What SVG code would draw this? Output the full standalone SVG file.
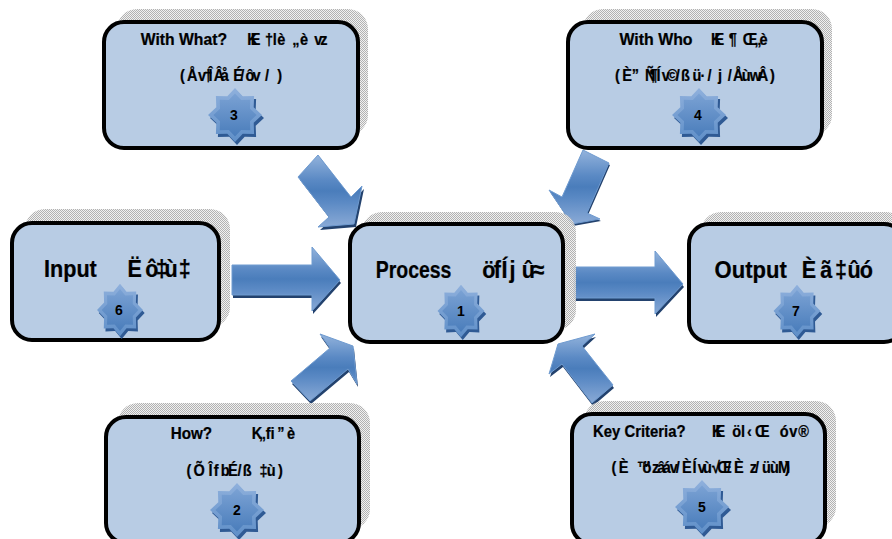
<svg xmlns="http://www.w3.org/2000/svg" xmlns:xlink="http://www.w3.org/1999/xlink" width="892" height="539" viewBox="0 0 892 539">
<style>
.box{fill:#b8cce4;stroke:#000;stroke-width:4}
.sh{fill:url(#dither)}
.arr{fill:url(#ag);stroke:#6f9bd0;stroke-width:1}
.ash{fill:#23426e}
.t{font-family:"Liberation Sans",sans-serif;font-weight:700;fill:#000;stroke:#000;stroke-width:.25;transform:scale(.88,1)}
.s{font-size:16.5px}
.l{font-size:24.5px}
.n{font-family:"Liberation Sans",sans-serif;font-weight:700;font-size:14px;fill:#000;text-anchor:middle}
</style>
<defs>
<pattern id="dither" width="2" height="2" patternUnits="userSpaceOnUse">
<rect width="2" height="2" fill="#eeeeee" fill-opacity=".8"/>
<rect width="1" height="1" fill="#b2b2b2"/><rect x="1" y="1" width="1" height="1" fill="#b2b2b2"/>
</pattern>
<linearGradient id="ag" x1="0" y1="0" x2="0" y2="1">
<stop offset="0" stop-color="#93b3dc"/><stop offset=".35" stop-color="#5a89c4"/><stop offset=".5" stop-color="#4a7dbb"/><stop offset=".65" stop-color="#5a89c4"/><stop offset="1" stop-color="#8aaad6"/>
</linearGradient>
<linearGradient id="sg1" x1="0" y1="0" x2="0" y2="1">
<stop offset="0" stop-color="#8fb0dc"/><stop offset="1" stop-color="#5f8fc8"/>
</linearGradient>
<linearGradient id="sg2" x1="0" y1="0" x2="0" y2="1">
<stop offset="0" stop-color="#7ba2d4"/><stop offset="1" stop-color="#4a7dbb"/>
</linearGradient>
<g id="star">
<polygon fill="#2f5a94" transform="translate(2 3)" points="0,-27 7.7,-18.7 19.1,-19.1 18.7,-7.7 27,0 18.7,7.7 19.1,19.1 7.7,18.7 0,27 -7.7,18.7 -19.1,19.1 -18.7,7.7 -27,0 -18.7,-7.7 -19.1,-19.1 -7.7,-18.7"/>
<polygon fill="url(#sg1)" points="0,-27 7.7,-18.7 19.1,-19.1 18.7,-7.7 27,0 18.7,7.7 19.1,19.1 7.7,18.7 0,27 -7.7,18.7 -19.1,19.1 -18.7,7.7 -27,0 -18.7,-7.7 -19.1,-19.1 -7.7,-18.7"/>
<polygon fill="url(#sg2)" transform="scale(.8)" points="0,-27 7.7,-18.7 19.1,-19.1 18.7,-7.7 27,0 18.7,7.7 19.1,19.1 7.7,18.7 0,27 -7.7,18.7 -19.1,19.1 -18.7,7.7 -27,0 -18.7,-7.7 -19.1,-19.1 -7.7,-18.7"/>
</g>
</defs>

<g id="connectors">
<g id="arrow-3">
<polygon class="ash" transform="translate(2 3)" points="318,155 298,177 329,217 318,227 354,224 362,186 351,197"/>
<polygon class="arr" points="318,155 298,177 329,217 318,227 354,224 362,186 351,197"/>
</g>
<g id="arrow-4">
<polygon class="ash" transform="translate(1 2)" points="583,150 609,163 587,213 600,219 572,224 549,190 562,197"/>
<polygon class="arr" points="583,150 609,163 587,213 600,219 572,224 549,190 562,197"/>
</g>
<g id="arrow-2">
<polygon class="ash" transform="translate(1 3)" points="291,381 310,401 348,369 357,384 353,346 320,334 330,348"/>
<polygon class="arr" points="291,381 310,401 348,369 357,384 353,346 320,334 330,348"/>
</g>
<g id="arrow-5">
<polygon class="ash" transform="translate(1 3)" points="613,385 592,403 562,364 549,374 558,344 595,334 582,346"/>
<polygon class="arr" points="613,385 592,403 562,364 549,374 558,344 595,334 582,346"/>
</g>
<g id="arrow-6">
<polygon class="ash" transform="translate(1 3)" points="232,265 312,265 312,247 340,280 312,311 312,295 232,295"/>
<polygon class="arr" points="232,265 312,265 312,247 340,280 312,311 312,295 232,295"/>
</g>
<g id="arrow-7">
<polygon class="ash" transform="translate(1 3)" points="574,267 655,267 655,251 683,284 655,314 655,298 574,298"/>
<polygon class="arr" points="574,267 655,267 655,251 683,284 655,314 655,298 574,298"/>
</g>
</g>

<g id="node-3">
<rect class="sh" x="117" y="9" width="251" height="126" rx="20"/>
<rect class="box" x="104" y="22" width="254" height="126" rx="20"/>
<text class="t s" x="160" y="45" textLength="98" lengthAdjust="spacingAndGlyphs">With What?</text>
<text class="t s" y="45" x="281 285 301 310 315 326 332 341 352 357 364">KE†lè „è vz</text>
<text class="t s" y="81" x="204.5 212.4 225 232 237 243 251 265 273 279 287 301 309 315">(Åv†ÎÂåÉ/ôv/ )</text>
<use xlink:href="#star" href="#star" x="235" y="115"/>
<text class="n" x="234" y="120">3</text>
</g>
<g id="node-4">
<rect class="sh" x="583" y="9" width="249" height="126" rx="20"/>
<rect class="box" x="568" y="22" width="254" height="126" rx="20"/>
<text class="t s" x="704" y="45" textLength="83" lengthAdjust="spacingAndGlyphs">With Who</text>
<text class="t s" y="45" x="808 812 828 844 857 863">KE¶Œ„è</text>
<text class="t s" y="81" x="699 707 718 733 738 746 752 758 765 768 774 782 787 796 804 816 822 827 833 843 852 861 875">(È”Ñ¶Ív© /ß ü·/j /ÅùwÂ)</text>
<use xlink:href="#star" href="#star" x="699" y="115"/>
<text class="n" x="698" y="120">4</text>
</g>
<g id="node-6">
<rect class="sh" x="25" y="209" width="205" height="118" rx="20"/>
<rect class="box" x="12" y="223" width="207" height="117" rx="20"/>
<text class="t l" x="50" y="277" textLength="60" lengthAdjust="spacingAndGlyphs">Input</text>
<text class="t l" y="277" x="145 165 177 187 203">Ëô‡ù‡</text>
<use xlink:href="#star" href="#star" transform="translate(120 310) scale(.85 .97)"/>
<text class="n" x="119" y="315">6</text>
</g>
<g id="node-1">
<rect class="sh" x="362" y="212" width="214" height="118" rx="20"/>
<rect class="box" x="350" y="224" width="213" height="118" rx="20"/>
<text class="t l" x="427" y="278" textLength="86" lengthAdjust="spacingAndGlyphs">Process</text>
<text class="t l" y="278" x="548 561 570 579 588 593 605">öfÍj û≈</text>
<use xlink:href="#star" href="#star" transform="translate(461 311) scale(.87 .97)"/>
<text class="n" x="461" y="316">1</text>
</g>
<g id="node-7">
<rect class="sh" x="701" y="212" width="205" height="118" rx="20"/>
<rect class="box" x="689" y="224" width="215" height="118" rx="20"/>
<text class="t l" x="812" y="278" textLength="82" lengthAdjust="spacingAndGlyphs">Output</text>
<text class="t l" y="278" x="911 932 949 963 977">Èã‡ûó</text>
<use xlink:href="#star" href="#star" transform="translate(797 311) scale(.87 .97)"/>
<text class="n" x="796" y="316">7</text>
</g>
<g id="node-2">
<rect class="sh" x="118" y="403" width="252" height="126" rx="20"/>
<rect class="box" x="106" y="417" width="253" height="126" rx="20"/>
<text class="t s" x="194" y="439" textLength="47" lengthAdjust="spacingAndGlyphs">How?</text>
<text class="t s" y="439" x="286 294 302 315 326">K„ﬁ”è</text>
<text class="t s" y="476" x="212 220 232 237 243 251 259 270 276 287 295 303 316">(Õ ÎfbÉ/ß ‡ù)</text>
<use xlink:href="#star" href="#star" x="237" y="510"/>
<text class="n" x="237" y="515">2</text>
</g>
<g id="node-5">
<rect class="sh" x="584" y="401" width="252" height="126" rx="20"/>
<rect class="box" x="572" y="414" width="253" height="130" rx="20"/>
<text class="t s" x="674" y="437" textLength="105" lengthAdjust="spacingAndGlyphs">Key Criteria?</text>
<text class="t s" y="437" x="809 813 832 842 849 858 875 886 897 907">KEöl‹Œ óv®</text>
<text class="t s" y="473" x="695 703 724 730 741 747 753 761 768 775 787 793 799 809 815 826 834 852 858 866 875 884 892">(È™özâáv/ÈÍvù√Œ/Èz/üùM)</text>
<use xlink:href="#star" href="#star" x="702" y="507"/>
<text class="n" x="702" y="512">5</text>
</g>
</svg>
